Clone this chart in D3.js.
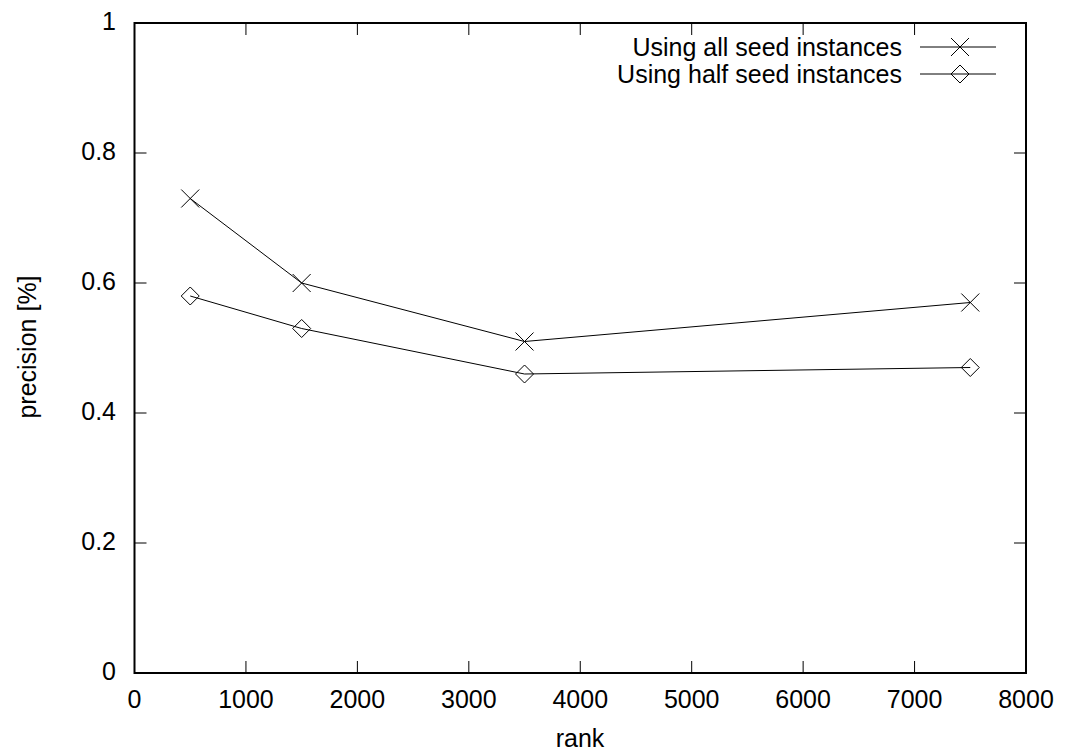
<!DOCTYPE html>
<html><head><meta charset="utf-8">
<script src="https://cdn.jsdelivr.net/npm/d3@7"></script>
<style>body{margin:0;background:#fff;} text{font-family:"Liberation Sans",Arial,sans-serif;}</style>
</head><body>
<svg id="c" width="1068" height="756"></svg>
<script>
const ranks = [500, 1500, 3500, 7500];
const allSeed = [0.73, 0.60, 0.51, 0.57];
const halfSeed = [0.58, 0.53, 0.46, 0.47];
const seriesNames = ["Using all seed instances", "Using half seed instances"];
const xTicks = [0,1000,2000,3000,4000,5000,6000,7000,8000];
const yTicks = [0,0.2,0.4,0.6,0.8,1];
const yTickLabels = ["0","0.2","0.4","0.6","0.8","1"];

const svg = d3.select("#c");
const L=134.5, R=1026, T=23, B=673;
const x = d3.scaleLinear().domain([0,8000]).range([L,R]);
const y = d3.scaleLinear().domain([0,1]).range([B,T]);
const fs = 25;
const tl = 12;

const g = svg.append("g").attr("stroke","#000").attr("stroke-width",1);
xTicks.forEach(v=>{
  if(v===0||v===8000) return;
  g.append("line").attr("x1",x(v)).attr("x2",x(v)).attr("y1",B).attr("y2",B-tl);
  g.append("line").attr("x1",x(v)).attr("x2",x(v)).attr("y1",T).attr("y2",T+tl);
});
yTicks.forEach(v=>{
  if(v===0||v===1) return;
  g.append("line").attr("x1",L).attr("x2",L+tl).attr("y1",y(v)).attr("y2",y(v));
  g.append("line").attr("x1",R).attr("x2",R-tl).attr("y1",y(v)).attr("y2",y(v));
});
xTicks.forEach(v=>{
  svg.append("text").attr("x",x(v)).attr("y",708).attr("text-anchor","middle")
    .attr("font-size",fs).text(v);
});
yTicks.forEach((v,i)=>{
  svg.append("text").attr("x",116).attr("y",y(v)+7).attr("text-anchor","end")
    .attr("font-size",fs).text(yTickLabels[i]);
});
svg.append("rect").attr("x",L).attr("y",T).attr("width",R-L).attr("height",B-T)
  .attr("fill","none").attr("stroke","#000").attr("stroke-width",2);

svg.append("text").attr("x",580).attr("y",747).attr("text-anchor","middle").attr("font-size",fs).text("rank");
svg.append("text").attr("transform",`translate(36,347) rotate(-90)`).attr("text-anchor","middle")
  .attr("font-size",fs).text("precision [%]");

const line = d3.line().x(d=>x(d[0])).y(d=>y(d[1]));
const ms = 9;
function cross(sel,cx,cy){
  sel.append("path").attr("d",`M${cx-ms},${cy-ms}L${cx+ms},${cy+ms}M${cx-ms},${cy+ms}L${cx+ms},${cy-ms}`)
    .attr("stroke","#000").attr("stroke-width",1).attr("fill","none");
}
function diamond(sel,cx,cy){
  sel.append("path").attr("d",`M${cx-ms},${cy}L${cx},${cy-ms}L${cx+ms},${cy}L${cx},${cy+ms}Z`)
    .attr("stroke","#000").attr("stroke-width",1).attr("fill","none");
}
const data = [allSeed, halfSeed];
const markers = [cross, diamond];
data.forEach((vals,si)=>{
  const pts = ranks.map((r,i)=>[r,vals[i]]);
  svg.append("path").attr("d",line(pts)).attr("fill","none").attr("stroke","#000").attr("stroke-width",1);
  pts.forEach(p=>markers[si](svg,x(p[0]),y(p[1])));
  const ly = 47 + si*27;
  svg.append("text").attr("x",902).attr("y",ly+9).attr("text-anchor","end").attr("font-size",25).text(seriesNames[si]);
  svg.append("line").attr("x1",920).attr("x2",996).attr("y1",ly).attr("y2",ly).attr("stroke","#000").attr("stroke-width",1);
  markers[si](svg,960,ly);
});
</script>
</body></html>
